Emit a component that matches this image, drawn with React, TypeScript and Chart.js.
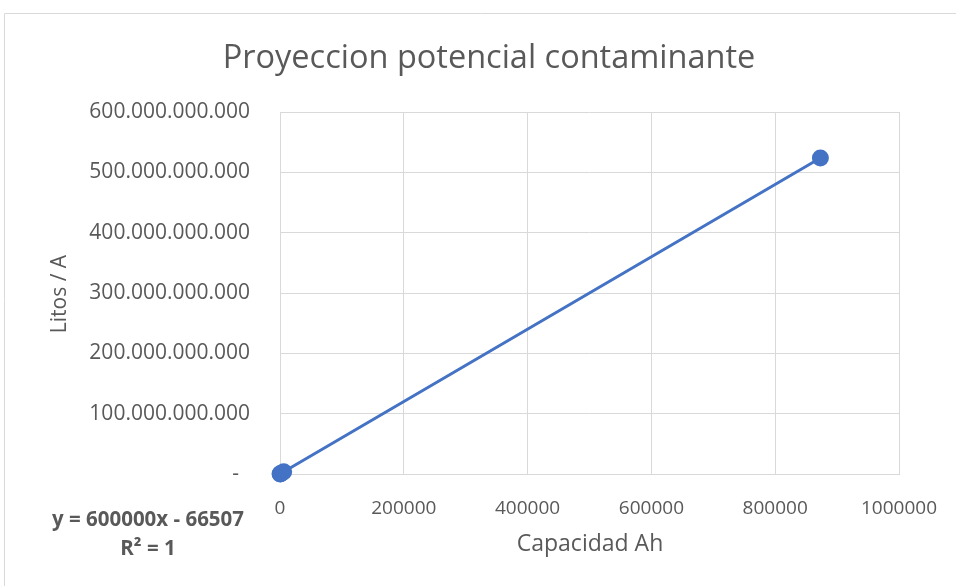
import React, { useEffect, useRef } from "react";
import { Chart, registerables } from "chart.js";

Chart.register(...registerables);

const capacidadAh = [100, 500, 1000, 3000, 6000, 873000];
const litrosPorA = [59933493, 299933493, 599933493, 1799933493, 3599933493, 523799933493];
const xTicksMax = 1000000;
const xStep = 200000;
const yTicksMax = 600000000000;
const yStep = 100000000000;
const chartTitle = "Proyeccion potencial contaminante";
const xTitle = "Capacidad Ah";
const yTitle = "Litos / A";
const trendEquation = "y = 600000x - 66507";
const trendR2 = "R² = 1";

const FONT = "'Open Sans', 'Noto Sans', sans-serif";
const TXT = "#595959";
const GRID = "#d9d9d9";
const BLUE = "#4472C4";

function fmtY(v: number): string {
  if (v === 0) return "-  ";
  return String(Math.round(v)).replace(/\B(?=(\d{3})+(?!\d))/g, ".");
}

const decorPlugin = {
  id: "decor",
  beforeDraw(chart: any) {
    const ctx = chart.ctx;
    ctx.save();
    ctx.strokeStyle = GRID;
    ctx.lineWidth = 1;
    ctx.beginPath();
    ctx.moveTo(4.5, 600);
    ctx.lineTo(4.5, 13.5);
    ctx.lineTo(960, 13.5);
    ctx.stroke();
    ctx.restore();
  },
  afterDraw(chart: any) {
    const ctx = chart.ctx;
    ctx.save();
    ctx.fillStyle = TXT;
    ctx.textAlign = "center";
    ctx.textBaseline = "middle";
    ctx.font = `32.5px ${FONT}`;
    ctx.fillText(chartTitle, 489, 59);
    ctx.font = `23px ${FONT}`;
    ctx.fillText(xTitle, 590, 544);
    ctx.save();
    ctx.translate(60, 294);
    ctx.rotate(-Math.PI / 2);
    ctx.font = `21px ${FONT}`;
    ctx.fillText(yTitle, 0, 0);
    ctx.restore();
    ctx.font = `bold 20.5px ${FONT}`;
    ctx.fillText(trendEquation, 148, 520);
    ctx.fillText(trendR2, 148, 549);
    ctx.restore();
  },
};

export default function App() {
  const ref = useRef<HTMLCanvasElement | null>(null);
  useEffect(() => {
    document.body.style.margin = "0";
    if (!ref.current) return;
    const points = capacidadAh.map((x, i) => ({ x, y: litrosPorA[i] }));
    const chart = new Chart(ref.current, {
      type: "scatter",
      data: {
        datasets: [
          {
            data: points,
            showLine: true,
            borderColor: BLUE,
            backgroundColor: BLUE,
            borderWidth: 3,
            pointRadius: 7,
            pointHoverRadius: 7,
            clip: false,
          } as any,
        ],
      },
      options: {
        responsive: false,
        animation: false,
        layout: { padding: { top: 112, right: 57, left: 0, bottom: 0 } },
        plugins: { legend: { display: false }, tooltip: { enabled: false }, title: { display: false } },
        scales: {
          x: {
            type: "linear",
            min: 0,
            max: xTicksMax,
            ticks: {
              stepSize: xStep,
              callback: (v: any) => String(v),
              color: TXT,
              font: { family: FONT, size: 19 },
              padding: 23,
              maxRotation: 0,
            },
            grid: { color: GRID, drawTicks: false, lineWidth: 1 },
            border: { display: true, color: GRID },
            afterFit: (s: any) => { s.height = 112; s.paddingRight = 0; s.paddingLeft = 0; },
          },
          y: {
            type: "linear",
            min: 0,
            max: yTicksMax,
            ticks: {
              stepSize: yStep,
              callback: (v: any) => fmtY(Number(v)),
              color: TXT,
              font: { family: FONT, size: 21 },
              padding: 30,
            },
            grid: { color: GRID, drawTicks: false, lineWidth: 1 },
            border: { display: false },
            afterFit: (s: any) => { s.width = 280; s.paddingTop = 0; s.paddingBottom = 0; },
          },
        },
      } as any,
      plugins: [decorPlugin],
    });
    return () => chart.destroy();
  }, []);
  return (
    <div style={{ width: 956, height: 586, position: "relative", background: "#fff" }}>
      <canvas ref={ref} width={956} height={586} style={{ width: 956, height: 586, display: "block" }} />
    </div>
  );
}
